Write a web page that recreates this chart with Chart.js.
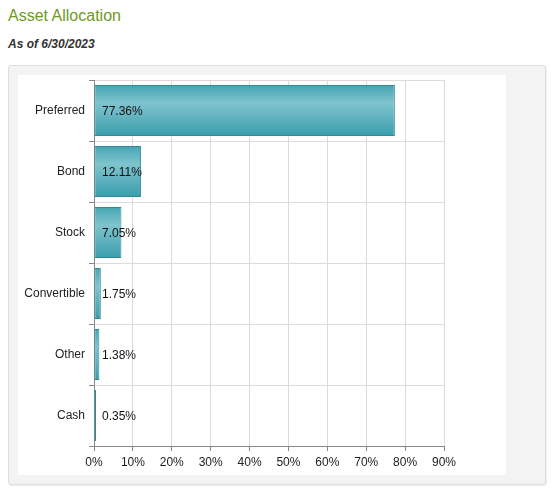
<!DOCTYPE html>
<html>
<head>
<meta charset="utf-8">
<script src="https://cdn.jsdelivr.net/npm/chart.js@4"></script>
<style>
  html, body { margin: 0; padding: 0; background: #fff; font-family: "Liberation Sans", Arial, sans-serif; }
  .title { position: absolute; left: 8px; top: 7px; font-size: 16px; color: #6e9a1f; }
  .asof { position: absolute; left: 8px; top: 37px; font-size: 12px; font-weight: bold; font-style: italic; color: #333; }
  .panel { position: absolute; left: 8px; top: 65px; width: 536px; height: 418px; background: #f3f3f3;
           border: 1px solid #dedede; border-radius: 3px; box-shadow: 1px 1px 2px rgba(0,0,0,0.08); }
  .box { position: absolute; left: 18px; top: 75px; width: 488px; height: 400px; background: #fff; }
</style>
</head>
<body>
<div class="title">Asset Allocation</div>
<div class="asof">As of 6/30/2023</div>
<div class="panel"></div>
<div class="box"><canvas id="chart" width="488" height="400"></canvas></div>
<script>
const categories = ['Preferred', 'Bond', 'Stock', 'Convertible', 'Other', 'Cash'];
const weights = [77.36, 12.11, 7.05, 1.75, 1.38, 0.35];
const xMax = 90;

// teal bar fill, lighter band across the top third
function barFill(ctx) {
  const chart = ctx.chart;
  const y = chart.scales.y;
  if (!y || !chart.chartArea || ctx.dataIndex === undefined) return '#4aa9b7';
  const c = y.getPixelForValue(ctx.dataIndex);
  const half = (y.height / categories.length) * 0.84 / 2;
  if (!isFinite(c) || !isFinite(half)) return '#4aa9b7';
  const g = chart.ctx.createLinearGradient(0, c - half, 0, c + half);
  g.addColorStop(0, '#44a4b3');
  g.addColorStop(0.35, '#7fc4ce');
  g.addColorStop(1, '#3a9dac');
  return g;
}

const valueLabels = {
  id: 'valueLabels',
  afterDatasetsDraw(chart) {
    const ctx = chart.ctx;
    const x0 = chart.scales.x.getPixelForValue(0);
    ctx.save();
    ctx.font = '12px "Liberation Sans", Arial, sans-serif';
    ctx.fillStyle = '#111';
    ctx.textBaseline = 'middle';
    ctx.textAlign = 'left';
    weights.forEach((v, i) => {
      const yy = chart.scales.y.getPixelForValue(i);
      ctx.fillText(v.toFixed(2) + '%', x0 + 8, yy + 1);
    });
    ctx.restore();
  }
};

new Chart(document.getElementById('chart'), {
  type: 'bar',
  data: {
    labels: categories,
    datasets: [{
      data: weights,
      backgroundColor: barFill,
      borderColor: '#2f8a95',
      borderWidth: 1,
      borderSkipped: false,
      categoryPercentage: 1,
      barPercentage: 0.84,
      minBarLength: 2
    }]
  },
  options: {
    indexAxis: 'y',
    responsive: false,
    animation: false,
    layout: { padding: { top: 5, right: 62, bottom: 0, left: 0 } },
    plugins: { legend: { display: false }, tooltip: { enabled: false } },
    scales: {
      x: {
        min: 0,
        max: xMax,
        ticks: {
          stepSize: 10,
          color: '#222',
          padding: 4,
          font: { family: '"Liberation Sans", Arial, sans-serif', size: 12 },
          callback: v => v + '%'
        },
        grid: { color: '#dcdcdc', tickColor: '#888', tickLength: 5 },
        border: { color: '#888' },
        afterFit: s => { s.height = 29; }
      },
      y: {
        ticks: {
          color: '#222',
          padding: 4,
          font: { family: '"Liberation Sans", Arial, sans-serif', size: 12 }
        },
        grid: { color: '#dcdcdc', tickColor: '#888', tickLength: 5, offset: true },
        border: { color: '#888' },
        afterFit: s => { s.width = 76; s.paddingTop = 0; s.paddingBottom = 0; }
      }
    }
  },
  plugins: [valueLabels]
});
</script>
</body>
</html>
